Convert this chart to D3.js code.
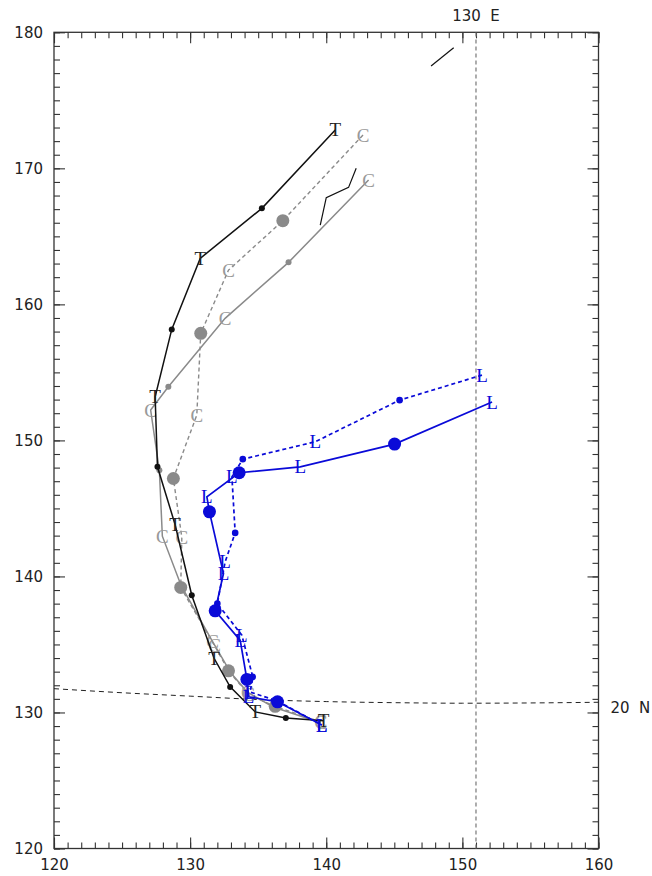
<!DOCTYPE html>
<html><head><meta charset="utf-8">
<script src="https://cdn.jsdelivr.net/npm/d3@7"></script>
<style>body{margin:0;background:#fff}svg{display:block}</style>
</head><body>
<svg id="chart" width="652" height="876"></svg>
<script>
// ---- data ----
const xTickLabels = [120,130,140,150,160];
const yTickLabels = [120,130,140,150,160,170,180];

// Track T (black, solid, small dots)
const tLon  = [140.66,135.27,130.74,128.65,127.43,127.60,128.90,130.12,131.75,132.94,134.78,137.03,139.80];
const tLat  = [172.82,167.06,163.38,158.16,153.20,148.06,143.80,138.62,134.00,131.88,130.04,129.60,129.40];
const tMark = ["T","dot","T","dot","T","dot","T","dot","T","dot","T","dot","T"];

// Track C solid (gray, small dots)
const c1Lon  = [143.11,137.23,132.57,128.40,127.10,127.74,127.96,129.35,131.65,133.00,134.20,136.10,139.60];
const c1Lat  = [169.14,163.09,158.97,153.94,152.23,147.80,142.96,139.30,135.20,132.90,131.50,130.40,129.25];
const c1Mark = ["C","dot","C","dot","C","dot","C","dot","C","dot","C","dot","C"];

// Track C dashed (gray, big dots)
const c2Lon  = [142.70,136.81,132.82,130.78,130.49,128.77,129.39,129.31,131.80,132.82,134.30,136.25,139.60];
const c2Lat  = [172.45,166.15,162.52,157.87,151.86,147.20,142.87,139.19,134.90,133.06,131.30,130.45,129.30];
const c2Mark = ["C","big","C","big","C","big","C","big","C","big","C","big","C"];

// Track L solid (blue, big dots)
const l1Lon  = [152.18,145.02,138.09,133.60,131.23,131.42,132.45,131.84,133.68,134.17,134.30,136.42,139.68];
const l1Lat  = [152.82,149.73,148.06,147.62,145.85,144.75,140.22,137.47,135.30,132.43,131.15,130.78,129.07];
const l1Mark = ["L","big","L","big","L","big","L","big","L","big","L","big","L"];

// Track L dashed (blue, small dots)
const l2Lon  = [151.44,145.39,139.19,133.87,133.07,133.31,132.57,132.00,133.80,134.60,134.41,136.40,139.68];
const l2Lat  = [154.80,152.96,149.90,148.62,147.32,143.20,141.07,138.00,135.68,132.62,131.50,130.85,129.07];
const l2Mark = ["L","dot","L","dot","L","dot","L","dot","L","dot","L","dot","L"];

// 20 N parallel (dashed)
const parLon = [120,125,130,135,140,145,150,155,160];
const parLat = [131.75,131.45,131.2,130.95,130.8,130.72,130.68,130.7,130.75];
// 130 E meridian
const merLon = 151;

// small stray line segments
const seg1Lon = [147.70,149.36];
const seg1Lat = [177.52,178.87];
const seg2Lon = [139.56,140.00,141.64,142.20];
const seg2Lat = [165.83,167.85,168.60,170.00];

// ---- drawing ----
const svg = d3.select("#chart");
const L = 54, R = 598.5, T = 32.3, B = 848.5;
const x = d3.scaleLinear().domain([120,160]).range([L,R]);
const y = d3.scaleLinear().domain([120,180]).range([B,T]);
const axisColor = "#333";
const font = "DejaVu Sans, sans-serif";

const minorX = d3.range(120,161,1), minorY = d3.range(120,181,1);
const majorX = d3.range(120,161,10), majorY = d3.range(120,181,10);

function styleAxis(g){
  g.select(".domain").remove();
  g.selectAll("line").attr("stroke",axisColor).attr("stroke-width",1.1);
  g.selectAll("text").attr("font-family",font).attr("font-size",15).attr("fill","#222");
}
// bottom
svg.append("g").attr("transform",`translate(0,${B})`)
  .call(d3.axisBottom(x).tickValues(minorX).tickSize(-6).tickFormat("")).call(styleAxis);
svg.append("g").attr("transform",`translate(0,${B})`)
  .call(d3.axisBottom(x).tickValues(xTickLabels).tickSize(-11).tickPadding(11).tickFormat(d3.format("d"))).call(styleAxis);
// top
svg.append("g").attr("transform",`translate(0,${T})`)
  .call(d3.axisTop(x).tickValues(minorX).tickSize(-6).tickFormat("")).call(styleAxis);
svg.append("g").attr("transform",`translate(0,${T})`)
  .call(d3.axisTop(x).tickValues(majorX).tickSize(-11).tickFormat("")).call(styleAxis);
// left
svg.append("g").attr("transform",`translate(${L},0)`)
  .call(d3.axisLeft(y).tickValues(minorY).tickSize(-6).tickFormat("")).call(styleAxis);
svg.append("g").attr("transform",`translate(${L},0)`)
  .call(d3.axisLeft(y).tickValues(yTickLabels).tickSize(-11).tickPadding(11).tickFormat(d3.format("d"))).call(styleAxis);
// right
svg.append("g").attr("transform",`translate(${R},0)`)
  .call(d3.axisRight(y).tickValues(minorY).tickSize(-6).tickFormat("")).call(styleAxis);
svg.append("g").attr("transform",`translate(${R},0)`)
  .call(d3.axisRight(y).tickValues(majorY).tickSize(-11).tickFormat("")).call(styleAxis);
// frame
svg.append("rect").attr("x",L).attr("y",T).attr("width",R-L).attr("height",B-T)
  .attr("fill","none").attr("stroke",axisColor).attr("stroke-width",1.3);

const line = d3.line().x(d=>x(d[0])).y(d=>y(d[1]));
const zip = (a,b)=>a.map((v,i)=>[v,b[i]]);

// meridian
svg.append("path").datum([[merLon,120],[merLon,180]]).attr("d",line)
  .attr("stroke","#777").attr("stroke-width",1.2).attr("stroke-dasharray","4,3").attr("fill","none");
svg.append("text").attr("x",x(merLon)).attr("y",T-16).attr("text-anchor","middle")
  .attr("dominant-baseline","central").attr("font-family",font).attr("font-size",15).attr("fill","#222")
  .attr("xml:space","preserve").text("130  E");
// parallel
svg.append("path").datum(zip(parLon,parLat)).attr("d",line.curve(d3.curveMonotoneX))
  .attr("stroke","#222").attr("stroke-width",1).attr("stroke-dasharray","5,4").attr("fill","none");
line.curve(d3.curveLinear);
svg.append("text").attr("x",R+12).attr("y",y(130.36)).attr("dominant-baseline","central")
  .attr("font-family",font).attr("font-size",15).attr("fill","#222")
  .attr("xml:space","preserve").text("20  N");

// stray segments
[[seg1Lon,seg1Lat],[seg2Lon,seg2Lat]].forEach(([a,b])=>{
  svg.append("path").datum(zip(a,b)).attr("d",line).attr("stroke","#111")
    .attr("stroke-width",1.2).attr("fill","none");
});

function drawTrack(lon,lat,mark,opt){
  const pts = lon.map((v,i)=>({lon:v,lat:lat[i],m:mark[i]}));
  const g = svg.append("g");
  g.append("path").datum(pts.map(p=>[p.lon,p.lat])).attr("d",line)
    .attr("fill","none").attr("stroke",opt.color).attr("stroke-width",opt.width)
    .attr("stroke-dasharray",opt.dash||null);
  g.selectAll("circle").data(pts.filter(p=>p.m==="dot"||p.m==="big")).join("circle")
    .attr("cx",p=>x(p.lon)).attr("cy",p=>y(p.lat))
    .attr("r",p=>p.m==="big"?opt.bigR:opt.smallR).attr("fill",opt.color);
  g.selectAll("text").data(pts.filter(p=>p.m!=="dot"&&p.m!=="big")).join("text")
    .attr("x",p=>x(p.lon)).attr("y",p=>y(p.lat)).attr("text-anchor","middle")
    .attr("dominant-baseline","central").attr("font-family","Liberation Serif, serif")
    .attr("font-size",19).attr("fill",opt.textColor||opt.color).text(p=>p.m);
}

drawTrack(c2Lon,c2Lat,c2Mark,{color:"#8a8a8a",width:1.4,dash:"4,3",bigR:6.5,smallR:3,textColor:"#999"});
drawTrack(c1Lon,c1Lat,c1Mark,{color:"#8a8a8a",width:1.5,bigR:6.5,smallR:3,textColor:"#999"});
drawTrack(tLon,tLat,tMark,{color:"#111",width:1.5,bigR:6,smallR:3,textColor:"#222"});
drawTrack(l2Lon,l2Lat,l2Mark,{color:"#0a0ad8",width:1.7,dash:"4,3",bigR:6.5,smallR:3.3});
drawTrack(l1Lon,l1Lat,l1Mark,{color:"#0a0ad8",width:1.7,bigR:6.5,smallR:3.3});
</script>
</body></html>
